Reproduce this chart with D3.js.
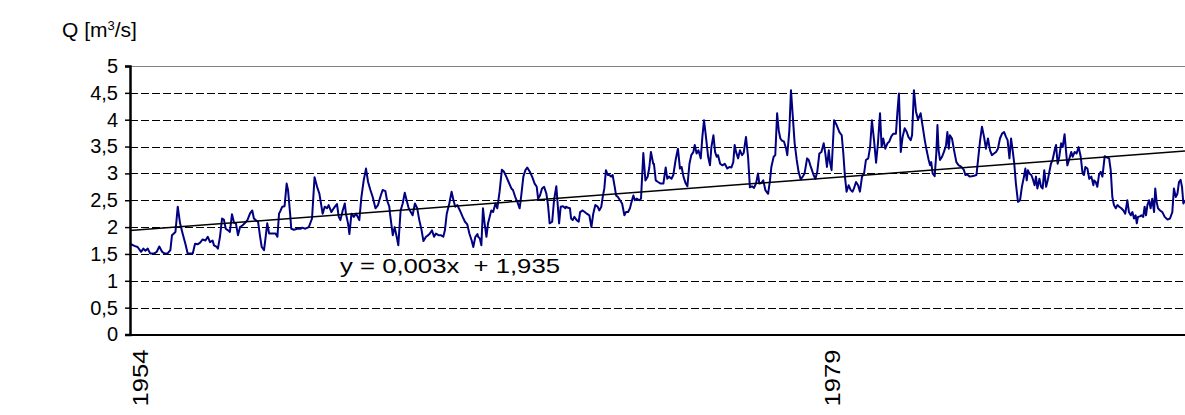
<!DOCTYPE html>
<html>
<head>
<meta charset="utf-8">
<script src="https://cdn.jsdelivr.net/npm/d3@7"></script>
<style>
  html, body { margin: 0; padding: 0; background: #fff; }
  svg { display: block; }
  text { font-family: "Liberation Sans", Arial, sans-serif; fill: #000; }
</style>
</head>
<body>
<svg id="chart" width="1185" height="415"></svg>
<script>
// Monthly discharge, months counted from the start of the record
const month = [
  0.0,1.9,3.3,4.8,5.8,6.7,7.7,8.7,10.6,11.6,12.7,13.9,14.9,16.3,17.5,18.2,19.7,20.7,21.7,22.8,24.0,25.0,27.2,28.2,29.3,30.4,31.5,32.7,33.7,34.7,35.8,
  36.4,37.6,38.1,39.0,39.9,40.7,41.5,42.5,43.3,44.2,45.1,45.9,46.8,47.7,48.7,49.7,50.9,52.0,53.0,53.7,54.5,55.5,56.4,57.1,58.1,58.8,59.5,60.3,61.7,63.1,63.9,64.6,65.3,66.0,67.0,67.9,68.5,69.4,69.9,71.1,72.5,74.0,
  74.6,76.0,77.5,78.9,80.0,81.1,82.1,82.9,83.5,84.4,85.4,86.1,87.3,88.3,89.0,89.7,90.5,91.2,92.2,93.1,93.6,94.5,95.1,96.0,97.0,98.0,99.4,100.3,101.3,102.3,103.2,104.2,105.2,106.4,107.5,108.5,109.5,110.7,111.4,112.4,
  112.7,113.9,114.7,115.6,116.3,117.3,118.2,119.1,119.9,120.8,121.7,122.5,123.5,124.5,125.4,126.4,127.2,128.3,129.3,130.0,130.9,131.8,132.6,133.7,134.7,135.8,136.5,137.3,138.4,139.4,140.2,141.0,141.9,143.0,144.2,145.2,146.2,147.1,148.1,148.8,149.7,150.6,
  150.9,151.6,152.3,153.0,153.7,154.5,155.2,155.9,156.6,157.4,158.4,159.2,160.2,161.2,162.1,163.1,164.1,165.3,166.0,167.0,167.9,168.9,169.6,170.5,171.4,172.2,173.3,174.3,175.4,176.3,176.9,177.7,178.6,179.5,180.5,181.2,181.9,183.0,183.8,184.8,185.2,186.0,186.7,187.7,188.7,
  189.0,189.9,190.7,191.2,191.9,192.6,193.6,194.5,195.1,196.2,197.1,198.0,199.1,200.0,200.8,201.7,202.7,203.4,204.3,204.9,205.6,206.3,207.1,207.8,208.5,209.2,210.1,210.7,211.5,212.4,213.3,214.3,215.0,215.9,216.7,217.6,218.2,218.8,219.6,220.8,221.5,221.9,222.5,223.4,224.4,225.1,225.8,226.8,
  227.1,227.9,228.9,230.0,231.2,232.2,232.9,233.6,234.7,235.5,236.5,237.5,238.4,239.1,239.9,240.9,241.6,242.5,243.3,244.2,244.8,245.6,246.4,247.4,248.1,248.8,249.5,250.6,251.4,252.0,252.9,253.6,254.3,254.9,255.8,256.8,257.8,258.9,259.8,260.7,261.5,262.1,262.7,263.6,264.4,
  265.3,266.0,267.0,267.9,268.7,269.6,270.5,271.4,272.2,272.8,273.7,274.5,275.4,276.6,277.4,278.0,279.0,279.7,280.5,281.2,281.9,282.6,283.5,284.4,284.9,285.8,286.5,287.2,288.1,289.0,289.8,290.7,291.6,292.4,293.5,294.2,294.9,295.6,296.3,297.1,297.9,298.8,299.7,300.7,301.4,302.1,302.9,
  303.4,304.1,305.2,306.3,307.5,308.5,309.2,309.9,310.6,311.5,312.4,313.2,313.8,314.7,315.6,316.4,317.3,318.2,319.0,320.0,320.8,321.6,322.5,323.4,324.2,325.1,325.8,326.5,327.4,328.3,329.1,330.0,330.9,332.0,332.6,333.3,334.1,334.9,335.8,336.7,337.4,338.4,339.0,339.8,340.7,
  341.6,342.7,343.6,344.5,345.3,346.2,346.8,347.3,347.9,348.8,349.5,350.0,350.5,351.1,352.0,352.8,353.7,354.3,354.9,355.4,356.3,357.2,358.2,359.2,360.1,360.6,361.5,362.1,362.9,364.0,365.4,366.9,367.6,368.5,369.3,370.2,371.0,371.9,372.8,373.6,374.5,375.4,376.2,377.1,378.0,378.9,
  379.7,380.4,381.2,381.9,382.6,383.3,384.0,384.9,385.8,386.6,387.5,388.1,388.7,389.2,389.8,390.7,391.3,392.1,392.7,393.3,394.2,394.9,395.6,396.3,397.1,397.8,398.5,399.2,399.9,400.8,401.4,402.1,402.8,403.6,404.3,405.1,405.7,406.3,407.2,408.0,408.6,409.5,410.3,411.2,412.1,412.9,413.5,414.1,415.0,415.8,416.7,417.6,
  417.9,418.6,419.3,420.0,420.8,421.5,421.9,422.5,423.3,424.4,425.1,425.8,426.5,427.3,428.0,428.8,429.7,430.6,431.4,432.3,433.0,433.8,434.5,435.2,435.9,436.4,436.9,437.8,438.4,439.2,439.8,440.4,441.0,441.7,442.4,443.1,443.9,444.4,445.0,445.6,446.5,447.5,448.5,449.7,450.8,451.8,452.5,453.3,454.0,454.7,455.4,456.0,456.6,457.3
];
const discharge = [
  1.69,1.65,1.63,1.54,1.60,1.56,1.60,1.51,1.51,1.54,1.64,1.54,1.51,1.51,1.57,1.85,1.91,2.38,2.07,1.88,1.69,1.51,1.51,1.69,1.68,1.71,1.77,1.75,1.82,1.72,1.75,
  1.66,1.63,1.60,1.82,2.16,2.14,1.97,1.94,1.91,2.24,2.08,2.07,1.85,2.00,2.03,2.07,2.13,2.25,2.31,2.16,2.13,2.10,1.82,1.63,1.57,1.82,2.07,1.88,1.88,1.88,1.82,2.25,2.31,2.38,2.39,2.81,2.69,2.25,1.97,1.95,1.97,1.97,
  1.99,1.97,2.00,2.16,2.93,2.75,2.62,2.41,2.25,2.38,2.35,2.41,2.28,2.35,2.39,2.43,2.19,2.13,2.31,2.44,2.25,2.07,1.87,2.25,2.19,2.25,2.13,2.56,2.87,3.09,2.84,2.69,2.56,2.35,2.41,2.56,2.69,2.67,2.50,2.38,
  2.25,1.85,2.00,1.82,1.66,2.31,2.44,2.64,2.50,2.35,2.28,2.22,2.44,2.35,2.13,1.94,1.74,1.82,1.85,1.88,1.94,1.82,1.88,1.85,1.85,1.82,1.94,2.25,2.44,2.66,2.50,2.38,2.41,2.31,2.19,2.10,2.05,1.88,1.75,1.63,1.82,1.87,
  1.82,1.79,1.66,2.35,2.07,1.82,2.07,2.19,2.31,2.28,2.44,2.35,2.66,3.07,3.03,2.94,2.84,2.72,2.69,2.56,2.47,2.35,2.59,2.94,3.06,3.11,3.03,2.94,2.81,2.75,2.53,2.59,2.72,2.75,2.62,2.41,2.07,2.10,2.50,2.76,2.53,2.07,2.38,2.39,2.35,
  2.38,2.36,2.35,2.16,2.13,2.19,2.13,2.10,2.28,2.31,2.28,2.25,2.22,2.00,2.25,2.41,2.38,2.31,2.38,2.56,2.72,3.06,2.97,2.97,2.94,2.97,2.75,2.59,2.56,2.50,2.44,2.22,2.28,2.28,2.35,2.50,2.59,2.50,2.53,2.50,2.53,2.87,3.38,2.87,2.94,3.11,3.40,3.18,
  3.18,2.87,2.84,2.81,2.81,3.11,2.90,2.94,2.90,2.97,3.25,3.46,3.09,3.12,2.94,2.81,2.76,3.18,3.34,3.40,3.53,3.37,3.43,3.28,3.68,3.99,3.74,3.31,3.15,3.49,3.71,3.40,3.31,3.34,3.18,3.15,3.18,3.09,3.12,3.11,3.21,3.53,3.40,3.28,3.43,
  3.34,3.38,3.68,3.31,2.74,2.76,2.73,2.82,3.00,2.81,2.82,2.87,2.69,2.62,2.87,3.12,3.31,3.34,4.12,3.80,3.65,3.61,3.59,3.46,3.34,3.80,4.55,4.12,3.56,3.25,3.03,2.89,2.94,3.00,3.28,3.25,3.15,3.06,2.97,2.90,3.03,3.37,3.40,3.56,3.37,3.12,3.43,
  3.21,3.06,3.99,3.90,3.77,3.71,3.37,2.94,2.66,2.78,2.69,2.66,2.72,2.84,2.78,2.66,2.94,3.00,3.25,3.28,3.49,3.99,3.62,3.20,3.56,4.12,3.49,3.65,3.46,3.56,3.59,3.69,3.74,3.74,4.12,4.49,3.40,3.68,3.84,3.77,3.68,3.62,3.71,4.55,4.15,
  4.00,4.12,3.87,3.62,3.43,3.25,3.15,3.21,3.00,2.95,3.37,3.90,3.43,3.25,3.31,3.40,3.52,3.77,3.46,3.71,3.65,3.43,3.21,3.15,3.13,3.11,3.06,2.97,2.98,2.94,2.95,2.97,3.25,3.62,3.87,3.68,3.46,3.65,3.43,3.34,3.37,3.40,3.46,3.65,3.74,3.77,
  3.68,3.62,3.28,3.65,3.43,3.18,2.81,2.47,2.50,2.75,2.94,3.09,2.87,3.06,3.00,2.97,2.90,2.78,2.94,2.72,2.90,2.75,2.72,3.06,2.75,2.87,3.03,3.18,3.25,3.43,3.53,3.18,3.31,3.56,3.49,3.73,3.43,3.15,3.28,3.40,3.31,3.40,3.37,3.49,3.31,3.00,2.97,3.12,3.09,2.90,2.94,2.78,
  2.87,2.84,2.75,2.97,3.03,2.94,3.09,3.32,3.30,3.28,3.06,2.56,2.41,2.35,2.41,2.38,2.35,2.31,2.25,2.50,2.28,2.22,2.28,2.16,2.22,2.07,2.19,2.20,2.22,2.19,2.38,2.22,2.41,2.50,2.35,2.53,2.28,2.72,2.47,2.35,2.31,2.28,2.19,2.14,2.16,2.28,2.72,2.56,2.62,2.84,2.88,2.75,2.44,2.50
];

// Linear trend (x = month number), as stated on the chart
const trendSlope = 0.00324;
const trendIntercept = 1.935;

// Axis ticks and labels
const yTicks = [0, 0.5, 1, 1.5, 2, 2.5, 3, 3.5, 4, 4.5, 5];
const xTickMonths = [4.5, 304.5];
const xTickLabels = ["1954", "1979"];

const svg = d3.select("#chart");
const m = { left: 130, top: 66 };
const W = 1185;
const plotRight = W;
const y0 = 334.5;

const x = d3.scaleLinear().domain([0, 457.3]).range([m.left, plotRight]);
const y = d3.scaleLinear().domain([0, 5]).range([y0, m.top]);

const fmt = v => String(v).replace(".", ",");

// Horizontal gridlines
svg.append("g").selectAll("line")
  .data(yTicks.filter(v => v > 0))
  .join("line")
  .attr("x1", m.left).attr("x2", plotRight)
  .attr("y1", d => Math.round(y(d)) + 0.5).attr("y2", d => Math.round(y(d)) + 0.5)
  .attr("stroke", d => d === 5 ? "#808080" : "#000")
  .attr("stroke-width", 1)
  .attr("stroke-dasharray", d => d === 5 ? null : "8,3");

// Discharge series
const pts = month.map((t, i) => [t, discharge[i]]);
svg.append("path")
  .datum(pts)
  .attr("fill", "none")
  .attr("stroke", "#000080")
  .attr("stroke-width", 2)
  .attr("stroke-linejoin", "round")
  .attr("d", d3.line().x(d => x(d[0])).y(d => y(d[1])));

// Trend line
const tDom = x.domain();
svg.append("line")
  .attr("x1", x(tDom[0])).attr("y1", y(trendIntercept + trendSlope * tDom[0]))
  .attr("x2", x(tDom[1])).attr("y2", y(trendIntercept + trendSlope * tDom[1]))
  .attr("stroke", "#000").attr("stroke-width", 1.5);

// Y axis
const yAxis = d3.axisLeft(y).tickValues(yTicks).tickSize(5).tickFormat(fmt);
const gy = svg.append("g").attr("transform", `translate(${m.left},0)`).call(yAxis);
gy.select(".domain").attr("stroke", "#000").attr("stroke-width", 2.5);
gy.selectAll(".tick line").attr("stroke", "#000").attr("stroke-width", 1.5);
gy.selectAll(".tick text")
  .attr("x", -12)
  .style("font-family", "'Liberation Sans', Arial, sans-serif")
  .style("font-size", "20px").attr("fill", "#000");

// X axis baseline
svg.append("line")
  .attr("x1", m.left - 1).attr("x2", plotRight)
  .attr("y1", y0 + 0.5).attr("y2", y0 + 0.5)
  .attr("stroke", "#000").attr("stroke-width", 2);

// Year labels
svg.append("g").selectAll("text")
  .data(xTickMonths)
  .join("text")
  .attr("transform", d => `translate(${x(d)},${y0 + 15}) rotate(-90)`)
  .attr("text-anchor", "end")
  .attr("dy", "0.35em")
  .style("font-size", "22px")
  .attr("textLength", 57)
  .attr("lengthAdjust", "spacingAndGlyphs")
  .text((d, i) => xTickLabels[i]);

// Axis title
const title = svg.append("text").attr("x", 62).attr("y", 37).style("font-size", "21px");
title.append("tspan").text("Q [m");
title.append("tspan").attr("dy", -7).style("font-size", "13px").text("3");
title.append("tspan").attr("dy", 7).text("/s]");

// Trend equation
svg.append("text")
  .attr("x", 340).attr("y", 273)
  .style("font-size", "21px")
  .style("white-space", "pre")
  .attr("xml:space", "preserve")
  .attr("textLength", 220)
  .attr("lengthAdjust", "spacingAndGlyphs")
  .text(`y = ${fmt(trendSlope.toFixed(3))}x  + ${fmt(trendIntercept.toFixed(3))}`);
</script>
</body>
</html>
